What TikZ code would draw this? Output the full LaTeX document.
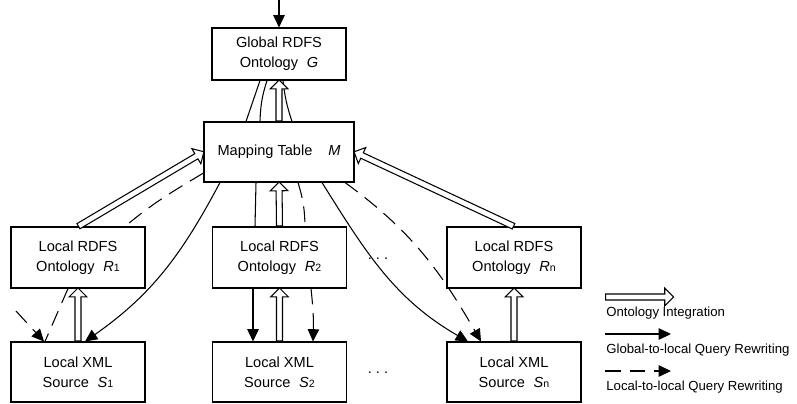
\documentclass[tikz,border=0pt]{standalone}
\usepackage{fontspec}
\setmainfont{Liberation Sans}
\usetikzlibrary{arrows.meta,calc,shapes.arrows}

\newcommand{\idx}[2]{\textit{#1}{\fontsize{6}{6}\selectfont #2}}
% hollow arrow from node #1 to node #2
\newcommand{\integ}[2]{%
    \path let \p1=($(#2)-(#1)$) in
        node [integarrow, minimum height={veclen(\x1,\y1)}, rotate={atan2(\y1,\x1)}, anchor=tail] at (#1) {};
}

\tikzset{
    box/.style={draw, line width=0.6pt, fill=white, align=center, inner sep=0pt,
        minimum width=2.68cm, minimum height=1.22cm},
    link/.style={line width=0.6pt},
    integarrow/.style={single arrow, draw, line width=0.6pt, fill=white,
        inner xsep=0pt, inner ysep=1.4pt, single arrow head extend=3.3pt,
        single arrow tip angle=90, single arrow head indent=0pt},
    query/.style={line width=0.6pt, -{Triangle[width=6.5pt,length=7pt]}},
    dsh/.style={line width=0.6pt, dash pattern=on 9pt off 5pt},
    locq/.style={query, dash pattern=on 9pt off 5pt},
}

\begin{document}
\begin{tikzpicture}[x=0.02cm, y=-0.02cm, font=\fontsize{8.3}{11.4}\selectfont]
    \useasboundingbox (0,0) rectangle (797,403);
    \node [box, minimum height=1.04cm] (G) at (279,54) {Global RDFS\\Ontology\hspace{5pt}\textit{G}};
    \node [box, minimum width=3cm, minimum height=1.2cm] (M) at (279,152) {Mapping Table\hspace{9pt}\textit{M}};
    \foreach \cx/\i in {78/1, 279.5/2, 514/n} {
        \node [box] (R\i) at (\cx,257.5) {Local RDFS\\Ontology\hspace{5pt}\idx{R}{\i}};
        \node [box, minimum height=1.2cm] (S\i) at (\cx,372) {Local XML\\Source\hspace{5pt}\idx{S}{\i}};
    }
    \node (dotsR) at (378,259) {.\ .\ .};
    \node (dotsS) at (378,373) {.\ .\ .};

    % incoming query
    \coordinate (query) at (279,0);
    \draw [query] (query) -- (G.north);

    % global ontology and mapping table
    \draw [link] (260,0 |- G.south) -- (246,0 |- M.north);
    \draw [link] (267,0 |- G.south) to[bend right=8] (260,0 |- M.north);
    \draw [link] (283,0 |- G.south) to[bend right=6] (292,0 |- M.north);
    \integ{M.north}{G.south}

    % ontology integration
    \integ{R1.north}{M.west}
    \integ{R2.north}{M.south}
    \integ{Rn.north}{M.east}
    \foreach \i in {1,2,n} {
        \integ{S\i.north}{R\i.south}
    }

    % global-to-local rewriting
    \draw [query] (220,0 |- M.south) to[out=-118,in=35] (85,0 |- S1.north);
    \draw [link] (256,0 |- M.south) -- (255,0 |- R2.north);
    \draw [query] (253,0 |- R2.south) -- (253,0 |- S2.north);
    \draw [query] (322,0 |- M.south) to[out=-58,in=150] (468,0 |- Sn.north);

    % local-to-local rewriting
    \draw [dsh] (M.west |- 0,173) to[out=-149,in=40] (125,0 |- R1.north);
    \draw [dsh] (68,0 |- R1.south) -- (45,0 |- S1.north);
    \coordinate (side) at (16,311);
    \draw [locq] (side) -- (44,0 |- S1.north);
    \draw [dsh] (298,0 |- M.south) to[bend left=8] (305,0 |- R2.north);
    \draw [locq] (311,0 |- R2.south) to[bend left=4] (313,0 |- S2.north);
    \draw [locq] (345,0 |- M.south) to[out=-36,in=120] (481,0 |- Sn.north);

    % legend
    \coordinate (ls0) at (605,297);
    \coordinate (le0) at (673,297);
    \integ{ls0}{le0}
    \foreach \st/\txt [count=\k from 0] in {integ/Ontology Integration,
        query/Global-to-local Query Rewriting, locq/Local-to-local Query Rewriting} {
        \ifnum\k>0
            \coordinate (ls\k) at (605,297+37*\k);
            \coordinate (le\k) at (671,297+37*\k);
            \draw [\st] (ls\k) -- (le\k);
        \fi
        \node [font=\fontsize{7.5}{9}\selectfont, anchor=west, inner sep=0pt] (lt\k) at (606,313+37*\k) {\txt};
    }
\end{tikzpicture}
\end{document}
